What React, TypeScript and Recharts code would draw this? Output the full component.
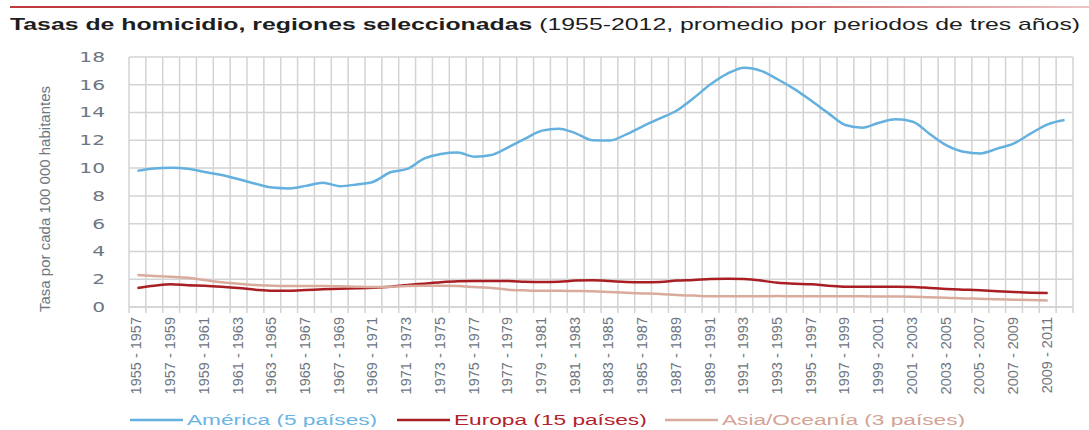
import React from 'react';
import { LineChart, Line, XAxis, YAxis, CartesianGrid, Legend } from 'recharts';

const periods = [
  '1955 - 1957', '1956 - 1958', '1957 - 1959', '1958 - 1960', '1959 - 1961', '1960 - 1962',
  '1961 - 1963', '1962 - 1964', '1963 - 1965', '1964 - 1966', '1965 - 1967', '1966 - 1968',
  '1967 - 1969', '1968 - 1970', '1969 - 1971', '1970 - 1972', '1971 - 1973', '1972 - 1974',
  '1973 - 1975', '1974 - 1976', '1975 - 1977', '1976 - 1978', '1977 - 1979', '1978 - 1980',
  '1979 - 1981', '1980 - 1982', '1981 - 1983', '1982 - 1984', '1983 - 1985', '1984 - 1986',
  '1985 - 1987', '1986 - 1988', '1987 - 1989', '1988 - 1990', '1989 - 1991', '1990 - 1992',
  '1991 - 1993', '1992 - 1994', '1993 - 1995', '1994 - 1996', '1995 - 1997', '1996 - 1998',
  '1997 - 1999', '1998 - 2000', '1999 - 2001', '2000 - 2002', '2001 - 2003', '2002 - 2004',
  '2003 - 2005', '2004 - 2006', '2005 - 2007', '2006 - 2008', '2007 - 2009', '2008 - 2010',
  '2009 - 2011', '2010 - 2012',
];

const america = [
  9.8, 9.98, 10.03, 9.96, 9.72, 9.5, 9.2, 8.88, 8.6, 8.54, 8.72, 8.95, 8.7, 8.82, 9.02,
  9.7, 9.94, 10.68, 11.02, 11.12, 10.82, 10.94, 11.5, 12.12, 12.7, 12.84, 12.5, 12.0, 11.98,
  12.43, 13.03, 13.58, 14.15, 15.05, 16.03, 16.8, 17.23, 17.0, 16.38, 15.67, 14.83, 13.94,
  13.1, 12.91, 13.27, 13.51, 13.34, 12.46, 11.64, 11.18, 11.06, 11.4, 11.78, 12.5, 13.15, 13.46,
];

const europa = [
  1.37, 1.53, 1.64, 1.56, 1.53, 1.46, 1.37, 1.25, 1.17, 1.17, 1.22, 1.28, 1.32, 1.35, 1.39,
  1.46, 1.58, 1.68, 1.78, 1.85, 1.87, 1.87, 1.87, 1.82, 1.8, 1.82, 1.9, 1.92, 1.87, 1.8,
  1.78, 1.8, 1.9, 1.94, 2.02, 2.04, 2.01, 1.9, 1.74, 1.68, 1.63, 1.53, 1.46, 1.46, 1.46,
  1.46, 1.44, 1.37, 1.3, 1.25, 1.2, 1.13, 1.08, 1.03, 1.0,
];

const asia = [
  2.3, 2.23, 2.18, 2.11, 1.94, 1.78, 1.68, 1.58, 1.53, 1.51, 1.51, 1.51, 1.49, 1.46, 1.44,
  1.46, 1.51, 1.53, 1.53, 1.51, 1.44, 1.37, 1.25, 1.2, 1.17, 1.17, 1.15, 1.13, 1.08, 1.03,
  0.98, 0.94, 0.86, 0.82, 0.77, 0.77, 0.77, 0.77, 0.79, 0.77, 0.77, 0.77, 0.77, 0.77, 0.76,
  0.75, 0.74, 0.7, 0.67, 0.62, 0.6, 0.55, 0.53, 0.5, 0.46,
];

const yTicks = [0, 2, 4, 6, 8, 10, 12, 14, 16, 18];

const seriesInfo = [
  { key: 'america', label: 'América (5 países)', color: '#64b0df', text: '#6ab4e4' },
  { key: 'europa', label: 'Europa (15 países)', color: '#a81e22', text: '#b3232b' },
  { key: 'asia', label: 'Asia/Oceanía (3 países)', color: '#d8ab9d', text: '#d3a394' },
];

const data = periods.map((p, i) => ({
  period: p,
  america: america[i] ?? null,
  europa: europa[i] ?? null,
  asia: asia[i] ?? null,
}));

const W = 1089;
const H = 430;
const MARGIN = { top: 57, right: 16, left: 0, bottom: 3 };
const Y_W = 129;
const X_H = 95;
const LEGEND_H = 25;
const PLOT_LEFT = MARGIN.left + Y_W;
const PLOT_W = W - MARGIN.left - MARGIN.right - Y_W;
const PLOT_H = H - MARGIN.top - MARGIN.bottom - X_H - LEGEND_H;
const STEP = PLOT_W / periods.length;
const GRID = '#d3d3d3';
const AXIS_TEXT = '#6e7681';
const FONT = 'Liberation Sans, Arial, sans-serif';
const LEGEND_X = [130, 397, 665];
const boundaries = Array.from({ length: periods.length + 1 }, (_, i) => PLOT_LEFT + i * STEP);

const XTick = (props: any) => {
  const { x, y, payload } = props;
  const index = props.index ?? payload.index;
  return (
    <g>
      {index % 2 === 0 && (
        <text
          transform={`translate(${x + 4},${y}) rotate(-90)`}
          textAnchor="end"
          style={{ fontSize: '14.5px', fontFamily: FONT }}
          fill={AXIS_TEXT}
        >
          {payload.value}
        </text>
      )}
    </g>
  );
};

const YTick = (props: any) => {
  const { x, y, payload } = props;
  return (
    <text
      transform={`translate(${x},${y}) scale(1.5,1)`}
      textAnchor="end"
      dy="0.36em"
      style={{ fontSize: '13.5px', fontFamily: 'DejaVu Sans, sans-serif' }}
      fill={AXIS_TEXT}
    >
      {payload.value}
    </text>
  );
};

const LegendContent = () => (
  <svg width={W - MARGIN.left - MARGIN.right} height={LEGEND_H} style={{ display: 'block' }}>
    {seriesInfo.map((s, i) => (
      <g key={s.key}>
        <line x1={LEGEND_X[i]} x2={LEGEND_X[i] + 53} y1={18} y2={18} stroke={s.color} strokeWidth={2.5} />
        <text
          transform={`translate(${LEGEND_X[i] + 57},23) scale(1.62,1)`}
          style={{ fontSize: '14px', fontFamily: FONT }}
          fill={s.text}
        >
          {s.label}
        </text>
      </g>
    ))}
  </svg>
);

const VGrid = () => (
  <svg
    width={W}
    height={H}
    style={{ position: 'absolute', left: 0, top: 0, pointerEvents: 'none' }}
  >
    {boundaries.map((bx, i) => (
      <line
        key={i}
        x1={bx}
        x2={bx}
        y1={MARGIN.top}
        y2={MARGIN.top + PLOT_H + 6}
        stroke={GRID}
        strokeWidth={1.5}
      />
    ))}
  </svg>
);

export default function App() {
  return (
    <div style={{ position: 'absolute', left: 0, top: 0, width: W, height: H, background: '#fff', overflow: 'hidden' }}>
      <div
        style={{
          position: 'absolute',
          left: 10,
          top: 6,
          width: W - 10,
          height: 2,
          background: 'linear-gradient(to right, #c0393f, #c9474c 60%, #ecc4c4)',
        }}
      />
      <div
        style={{
          position: 'absolute',
          left: 10,
          top: 16,
          whiteSpace: 'nowrap',
          fontFamily: FONT,
          fontSize: 17,
          lineHeight: '17px',
          color: '#1e1e1e',
          transform: 'scaleX(1.46)',
          transformOrigin: 'left top',
          zIndex: 2,
        }}
      >
        <b>Tasas de homicidio, regiones seleccionadas</b> (1955-2012, promedio por periodos de tres años)
      </div>
      <VGrid />
      <div style={{ position: 'absolute', left: 0, top: 0 }}>
        <LineChart width={W} height={H} data={data} margin={MARGIN}>
          <CartesianGrid stroke={GRID} strokeWidth={1.5} vertical={false} />
          <XAxis
            dataKey="period"
            scale="band"
            interval={0}
            height={X_H}
            tickSize={6}
            tickMargin={4}
            tickLine={false}
            axisLine={{ stroke: GRID, strokeWidth: 1.5 }}
            tick={<XTick />}
          />
          <YAxis
            width={Y_W}
            domain={[0, 18]}
            ticks={yTicks}
            interval={0}
            tickLine={false}
            axisLine={false}
            tickMargin={18}
            tick={<YTick />}
            label={{
              content: (p: any) => {
                const vb = p.viewBox || { x: 0, y: MARGIN.top, width: Y_W, height: PLOT_H };
                return (
                  <text
                    transform={`translate(${vb.x + 50},${vb.y + vb.height / 2 + 17}) rotate(-90)`}
                    textAnchor="middle"
                    style={{ fontSize: '15px', fontFamily: FONT }}
                    fill={AXIS_TEXT}
                  >
                    Tasa por cada 100 000 habitantes
                  </text>
                );
              },
            }}
          />
          <Legend verticalAlign="bottom" height={LEGEND_H} content={<LegendContent />} />
          {seriesInfo.map((s) => (
            <Line
              key={s.key}
              type="monotone"
              dataKey={s.key}
              stroke={s.color}
              strokeWidth={2.5}
              dot={false}
              activeDot={false}
              isAnimationActive={false}
            />
          ))}
        </LineChart>
      </div>
    </div>
  );
}
